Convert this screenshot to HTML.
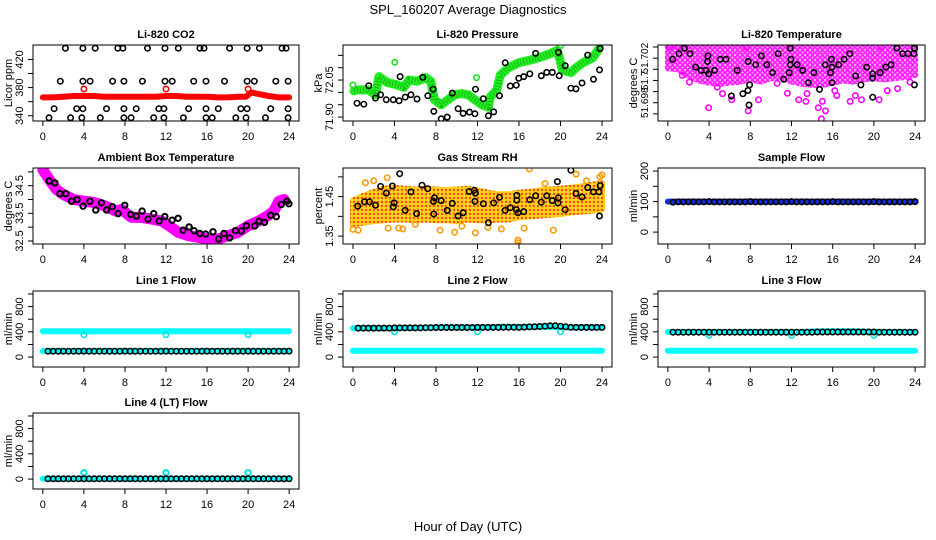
<!DOCTYPE html>
<html><head><meta charset="utf-8">
<style>
html,body{margin:0;padding:0;background:#fff;}
svg{display:block;font-family:"Liberation Sans",sans-serif;}
</style></head>
<body>
<svg id="chart" width="936" height="540" viewBox="0 0 936 540">
<defs>
<pattern id="dotM" width="5" height="5" patternUnits="userSpaceOnUse"><rect width="5" height="5" fill="#ffb0ff"/><circle cx="2.5" cy="2.5" r="1.8" fill="none" stroke="#ff00ff" stroke-width="1.3"/></pattern>
<pattern id="dotO" width="4" height="4" patternUnits="userSpaceOnUse"><rect width="4" height="4" fill="#ffd21a"/><circle cx="2" cy="2" r="1.2" fill="#e8501a"/></pattern>
</defs>
<text x="468" y="14" text-anchor="middle" font-size="13">SPL_160207  Average Diagnostics</text>
<text x="468" y="531" text-anchor="middle" font-size="13">Hour of Day (UTC)</text>
</svg>
<script>
// ---------- data ----------
const xTicks = [0,4,8,12,16,20,24];
const halfHours = [0.5,1,1.5,2,2.5,3,3.5,4,4.5,5,5.5,6,6.5,7,7.5,8,8.5,9,9.5,10,10.5,11,11.5,12,12.5,13,13.5,14,14.5,15,15.5,16,16.5,17,17.5,18,18.5,19,19.5,20,20.5,21,21.5,22,22.5,23,23.5,24];
const hourly = [0,1,2,3,4,5,6,7,8,9,10,11,12,13,14,15,16,17,18,19,20,21,22,23,24];

// CO2
const co2BlackHours = [2.2,3.9,5.1,7.3,7.8,10.2,11.9,13.2,15.3,15.7,18.2,19.9,21.1,23.3,23.7, 1.7,3.9,4.6,6.8,7.9,9.7,11.9,12.6,14.7,15.9,17.7,19.9,20.6,22.7,23.9, 1.1,3.3,3.9,6.2,7.9,9.1,11.3,11.8,14.2,15.9,17.1,19.3,19.9,22.2,23.9, 0.6,2.7,3.8,5.6,7.9,8.6,10.8,11.8,13.7,15.9,16.5,18.8,19.8,21.7,23.9];
const co2BlackVals = [436,436,436,436,436,436,436,436,436,436,436,436,436,436,436, 389,389,389,389,389,389,389,389,389,389,389,389,389,389,389, 350,350,350,350,350,350,350,350,350,350,350,350,350,350,350, 337,337,337,337,337,337,337,337,337,337,337,337,337,337,337];
const co2RedHours = [0,1,2,3,4,5,6,7,8,9,10,11,12,13,14,15,16,17,18,19,19.8,20.3,21,22,23,24];
const co2RedVals = [366,366,367,368,368,368,367,367,367,367,367,367,368,368,367,367,367,366,366,367,367,373,371,368,366,366];
const co2RedOutHours = [4,12,20];
const co2RedOutVals = [378,378,378];

// Pressure
const presGreenHours = [0.1,0.4,1.5,2.17,2.5,3.3,4.3,4.9,5.4,6.2,7.0,7.5,7.86,8.5,9.15,9.8,10.45,11.1,11.75,12.4,13.05,13.2,13.86,14.2,15.0,15.97,17.0,17.9,18.9,19.7,20.2,21.0,21.5,22.15,23.1,23.76];
const presGreenVals = [72.006,72.01,72.01,71.99,72.064,72.04,72.03,72.02,72.05,72.045,72.06,72.045,71.97,71.95,71.97,71.99,71.995,71.99,71.97,71.95,71.94,71.98,72.01,72.07,72.10,72.12,72.13,72.14,72.155,72.17,72.09,72.08,72.10,72.12,72.14,72.18];
const presGreenOutHours = [0,4.03,11.9,20.0];
const presGreenOutVals = [72.03,72.122,72.06,72.19];
const presBlackHours = [0.39,1.04,1.53,2.17,2.66,3.21,3.89,4.45,4.54,5.03,5.58,6.17,6.72,7.21,7.72,7.79,8.5,9.08,9.57,10.13,10.61,11.23,11.75,11.81,12.56,13.05,13.56,14.12,14.67,15.16,15.74,15.97,16.45,17.04,17.6,18.15,18.67,19.21,19.8,19.87,20.45,21.0,21.49,22.07,22.62,23.18,23.76,23.8];
const presBlackVals = [71.956,71.952,72.027,71.977,71.99,71.97,71.97,71.966,72.064,71.981,71.99,71.973,72.061,71.986,72.013,71.923,71.893,71.9,71.997,71.934,71.915,71.92,71.913,72.013,71.974,71.905,71.921,71.986,72.12,72.026,72.029,72.057,72.064,72.075,72.158,72.067,72.081,72.081,72.162,72.067,72.108,72.017,72.014,72.038,72.151,72.053,72.091,72.178];

// Li-820 temperature
const tempBandHi = [51.7031,51.7031,51.7031,51.7031,51.7031,51.7031,51.7031,51.7031,51.7031,51.7031,51.7031,51.7031,51.7031,51.7031,51.7031,51.7031,51.7031,51.7031,51.7031,51.7031,51.7031,51.7031,51.7031,51.7031,51.7031];
const tempBandLo = [51.7011,51.7010,51.7004,51.7000,51.6998,51.6997,51.6998,51.6999,51.7001,51.6999,51.7002,51.7003,51.6999,51.6997,51.6996,51.6996,51.6998,51.7000,51.6999,51.7001,51.7002,51.7001,51.7002,51.7003,51.7005];
const tempMagOutHours = [3.95,7.8,14.9,15.3,15.0,14.6,8.8,6.2,20.5,17.7,12.7,13.4,11.6,16.4,2.1,1.4,18.8,16.2,13.5,5.3,4.8,10.6,18.2,21.3,22.3,23.5,0.2,1.0,7.6,20.7];
const tempMagOutVals = [51.69755,51.69727,51.69655,51.69727,51.69812,51.69755,51.69827,51.69827,51.69827,51.69812,51.69827,51.69812,51.69885,51.69864,51.69985,51.70045,51.69827,51.69909,51.69882,51.69882,51.69939,51.69973,51.69864,51.69909,51.69927,51.69985,51.7030,51.7030,51.7030,51.7030];
const tempBlackHours = [0.46,1.08,1.6,2.15,2.7,3.23,3.72,3.85,3.88,3.95,4.53,5.09,5.65,6.17,6.73,7.28,7.77,7.8,7.93,7.87,8.52,9.08,9.6,10.16,10.7,11.24,11.78,11.88,11.88,11.95,12.54,13.09,13.64,14.17,14.72,15.28,15.8,15.87,15.93,15.93,16.58,17.11,17.66,18.22,18.74,19.3,19.86,19.88,19.88,20.6,21.15,21.67,22.23,22.79,23.31,23.87,23.93,23.93];
const tempBlackVals = [51.7019,51.7024,51.7029,51.7024,51.7012,51.7009,51.7009,51.7017,51.7022,51.7006,51.7009,51.7019,51.7019,51.6986,51.7009,51.6988,51.6991,51.7017,51.6996,51.6978,51.7014,51.7022,51.7014,51.7007,51.7024,51.7001,51.7007,51.7014,51.7029,51.7019,51.7014,51.7009,51.6998,51.7007,51.6992,51.7014,51.7007,51.7019,51.7012,51.6998,51.7014,51.7019,51.7024,51.7004,51.6996,51.7012,51.7002,51.7006,51.6985,51.7007,51.7012,51.7014,51.7029,51.7024,51.7024,51.7024,51.7029,51.6996];

// Ambient box temperature
const ambMagHours = [0,0.65,1.33,2,3,4,5,6.1,7.1,7.7,8.6,9.6,10.6,11.6,12.3,13.2,14.2,15.2,16.1,17.1,18,19,20,21,21.9,22.5,23,23.5];
const ambMagVals = [35.07,34.71,34.36,34.18,34.0,33.94,33.89,33.76,33.58,33.64,33.36,33.35,33.29,33.22,33.05,32.81,32.69,32.63,32.57,32.57,32.69,32.81,33.05,33.22,33.41,33.58,33.94,34.0];
const ambBlackHours = [0.62,1.17,1.66,2.24,2.79,3.34,3.92,4.58,5.16,5.71,6.2,6.78,7.33,7.98,8.57,9.12,9.67,10.25,10.8,11.33,11.88,12.59,13.18,13.66,14.25,14.73,15.29,15.87,16.58,17.14,17.65,18.2,18.76,19.34,19.83,20.64,21.06,21.6,22.2,22.75,23.24,23.8,23.98];
const ambBlackVals = [34.67,34.6,34.21,34.21,33.94,34.0,33.76,33.94,33.62,33.88,33.62,33.74,33.49,33.79,33.46,33.4,33.58,33.29,33.49,33.22,33.38,33.25,33.32,32.89,33.01,32.87,32.77,32.75,32.83,32.57,32.77,32.61,32.87,32.86,33.05,33.04,33.21,33.17,33.43,33.38,33.82,33.94,33.85];

// Gas stream RH
const rhBandHi = [1.440,1.452,1.462,1.470,1.472,1.470,1.468,1.470,1.468,1.466,1.468,1.470,1.466,1.460,1.456,1.456,1.460,1.462,1.466,1.468,1.470,1.472,1.476,1.480,1.484];
const rhBandLo = [1.380,1.384,1.388,1.390,1.392,1.392,1.390,1.392,1.390,1.390,1.388,1.392,1.390,1.390,1.392,1.392,1.398,1.400,1.402,1.404,1.406,1.410,1.412,1.414,1.418];
const rhOrangeOutHours = [0.0,0.5,1.2,3.3,3.4,4.4,4.8,8.4,9.8,11.8,14.3,15.9,15.9,16.5,17.0,19.3,21.5,23.8,24.0,2.0,6.0,10.5,13.0,18.5,22.5];
const rhOrangeOutVals = [1.367,1.365,1.485,1.498,1.37,1.37,1.368,1.365,1.36,1.358,1.368,1.34,1.333,1.37,1.52,1.365,1.507,1.5,1.505,1.49,1.38,1.375,1.372,1.483,1.49];
const rhBlackHours = [0.46,1.1,1.59,2.17,2.66,3.21,3.8,3.89,3.96,4.5,5.03,5.58,6.13,6.65,7.2,7.76,7.79,7.86,8.5,9.08,9.57,10.13,10.61,11.2,11.68,11.75,11.8,12.56,13.05,13.56,14.12,14.67,15.16,15.74,15.8,15.8,15.9,16.45,17.04,17.6,18.15,18.67,19.21,19.7,19.76,19.8,20.45,21.0,21.49,22.07,22.62,23.18,23.69,23.76,23.82];
const rhBlackVals = [1.426,1.437,1.437,1.428,1.476,1.459,1.477,1.424,1.434,1.508,1.415,1.462,1.407,1.479,1.47,1.438,1.406,1.447,1.44,1.415,1.433,1.401,1.409,1.463,1.466,1.438,1.459,1.432,1.384,1.434,1.448,1.415,1.422,1.417,1.453,1.441,1.409,1.412,1.442,1.452,1.436,1.452,1.44,1.488,1.434,1.447,1.417,1.517,1.458,1.449,1.473,1.462,1.462,1.401,1.478];

// Flows
const sampleBlueVals = [100,100,100,100,100,100,100,100,100,100,100,100,100,100,100,100,100,100,100,100,100,100,100,100,100];
const sampleBlackVals = [98,99,99,99,99,99,99,100,99,99,99,99,99,99,99,100,99,99,99,99,99,99,99,100,99,99,99,99,99,99,99,100,99,99,99,99,99,99,99,100,99,99,99,99,99,99,99,100];
const line1CyanHi = [408,408,408,408,408,408,408,408,408,408,408,408,408,408,410,410,408,408,408,410,410,408,408,408,408];
const line1CyanLo = [95,95,95,95,95,95,95,95,95,95,95,95,95,95,95,95,95,95,95,95,95,95,95,95,95];
const line1CyanOutHours = [4,12,20];
const line1CyanOutVals = [355,355,355];
const line1BlackVals = [93,93,93,93,93,93,93,95,93,93,93,93,93,93,93,95,93,93,93,93,93,93,93,95,93,93,93,93,93,93,93,95,93,93,93,93,93,93,93,95,93,93,93,93,93,93,93,95];
const line2CyanHi = [460,460,460,460,458,462,462,466,468,470,470,470,466,470,475,478,478,478,480,478,470,468,468,468,468];
const line2CyanLo = [100,100,100,100,100,100,100,100,100,100,100,100,100,100,100,100,100,100,100,100,100,100,100,100,100];
const line2CyanOutHours = [4,12,20];
const line2CyanOutVals = [400,400,400];
const line2BlackVals = [460,460,460,460,460,460,460,462,462,462,462,462,462,465,465,468,468,468,468,468,468,468,468,470,470,470,470,470,472,472,472,470,475,478,480,485,490,495,495,490,480,472,470,470,470,470,470,470];
const line3CyanHi = [398,398,398,398,398,398,398,398,398,398,398,398,398,398,405,410,410,410,410,405,398,398,398,398,398];
const line3CyanLo = [100,100,100,100,100,100,100,100,100,100,100,100,100,100,100,100,100,100,100,100,100,100,100,100,100];
const line3CyanOutHours = [4,12,20];
const line3CyanOutVals = [345,345,345];
const line3BlackVals = [395,395,395,395,395,395,395,395,395,395,395,395,395,395,395,395,395,395,395,395,395,395,395,395,395,395,395,395,398,398,398,398,398,398,398,398,398,398,398,398,395,395,395,395,395,395,395,395];
const line4CyanVals = [5,5,5,5,5,5,5,5,5,5,5,5,5,5,5,5,5,5,5,5,5,5,5,5,5];
const line4CyanOutHours = [4,12,20];
const line4CyanOutVals = [100,100,100];
const line4BlackVals = [5,5,5,5,5,5,5,5,5,5,5,5,5,5,5,5,5,5,5,5,5,5,5,5,5,5,5,5,5,5,5,5,5,5,5,5,5,5,5,5,5,5,5,5,5,5,5,5];

// ---------- drawing ----------
const NS = 'http://www.w3.org/2000/svg';
const svg = document.getElementById('chart');
function mk(tag, attrs, parent){
  const e = document.createElementNS(NS, tag);
  for (const k in attrs) e.setAttribute(k, attrs[k]);
  (parent||svg).appendChild(e);
  return e;
}
const colX = [[33,299],[343,612],[658,925]];
const rowY = [45,168,291,413];
const PH = 76;

function panel(name, title, col, row, ymin, ymax, yticks, ylabels, ylab, yfs){
  const x0 = colX[col][0], x1 = colX[col][1], y0 = rowY[row], y1 = y0 + PH;
  const g = mk('g', {});
  
  
  const p = {g, x0, x1, y0, y1,
    sx: h => x0 + (h + 0.96) / 25.92 * (x1 - x0),
    sy: v => y1 - (v - ymin) / (ymax - ymin) * PH};
  const clip = mk('clipPath', {id: 'clip-' + name}, g);
  mk('rect', {x: x0, y: y0, width: x1 - x0, height: PH}, clip);
  p.plot = mk('g', {'clip-path': 'url(#clip-' + name + ')'}, g);
  
  
  const t = mk('text', {x: (x0 + x1) / 2, y: y0 - 7, 'text-anchor': 'middle', 'font-size': 11, 'font-weight': 'bold'}, g);
  t.textContent = title;
  
  
  const xa = mk('g', {}, g);
  
  
  mk('line', {x1: p.sx(xTicks[0]), x2: p.sx(xTicks[xTicks.length-1]), y1: y1, y2: y1, stroke: '#000'}, xa);
  xTicks.forEach(v => {
    const X = p.sx(v);
    mk('line', {x1: X, x2: X, y1: y1, y2: y1 + 5, stroke: '#000'}, xa);
    const tx = mk('text', {x: X, y: y1 + 19, 'text-anchor': 'middle', 'font-size': 11}, xa);
    tx.textContent = v;
  });
  const ya = mk('g', {}, g);
  
  
  mk('line', {x1: x0, x2: x0, y1: p.sy(yticks[0]), y2: p.sy(yticks[yticks.length-1]), stroke: '#000'}, ya);
  yticks.forEach(v => {
    const Y = p.sy(v);
    mk('line', {x1: x0 - 5, x2: x0, y1: Y, y2: Y, stroke: '#000'}, ya);
  });
  ylabels.forEach(l => {
    const Y = p.sy(l[0]);
    const tx = mk('text', {x: x0 - 10, y: Y, 'text-anchor': 'middle', 'font-size': yfs || 11, transform: `rotate(-90 ${x0-10} ${Y})`}, ya);
    tx.textContent = l[1];
  });
  const yl = mk('text', {x: x0 - 21, y: (y0 + y1) / 2, 'text-anchor': 'middle', 'font-size': 11, transform: `rotate(-90 ${x0-21} ${(y0+y1)/2})`}, g);
  yl.textContent = ylab;
  
  
  mk('rect', {x: x0, y: y0, width: x1 - x0, height: PH, fill: 'none', stroke: '#000'}, g);
  return p;
}
function thickLine(p, hs, vs, color, w, nm, texture){
  const pts = hs.map((h, i) => p.sx(h).toFixed(1) + ',' + p.sy(vs[i]).toFixed(1)).join(' ');
  const pl = mk('polyline', {points: pts, fill: 'none', stroke: color, 'stroke-width': w, 'stroke-linejoin': 'round', 'stroke-linecap': 'round'}, p.plot);
  
  
  if (texture) {
    const pl2 = mk('polyline', {points: pts, fill: 'none', stroke: 'rgba(0,80,0,0.35)', 'stroke-width': w - 3, 'stroke-dasharray': '1 2'}, p.plot);
    
    
  }
}
function band(p, hs, lo, hi, fill, nm){
  const top = hs.map((h, i) => p.sx(h).toFixed(1) + ',' + p.sy(hi[i]).toFixed(1));
  const bot = hs.map((h, i) => p.sx(h).toFixed(1) + ',' + p.sy(lo[i]).toFixed(1)).reverse();
  const pg = mk('polygon', {points: top.concat(bot).join(' '), fill: fill, stroke: fill, 'stroke-width': 6, 'stroke-linejoin': 'round'}, p.plot);
  
  
}
function points(p, hs, vs, color, nm, sw){
  hs.forEach((h, i) => {
    const c = mk('circle', {cx: p.sx(h).toFixed(1), cy: p.sy(vs[i]).toFixed(1), r: 2.7, fill: 'none', stroke: color, 'stroke-width': sw || 1.6}, p.plot);
    
    
  });
}

let p = panel('co2', 'Li-820 CO2', 0, 0, 332.5, 440.5, [340,360,380,400,420], [[340,'340'],[380,'380'],[420,'420']], 'Licor ppm');
thickLine(p, co2RedHours, co2RedVals, '#ff0000', 6, 'co2-red-series');
points(p, co2RedOutHours, co2RedOutVals, '#ff0000', 'co2-red-point');
points(p, co2BlackHours, co2BlackVals, '#000', 'co2-black-point');

p = panel('pressure', 'Li-820 Pressure', 1, 0, 71.884, 72.192, [71.90,71.95,72.00,72.05,72.10,72.15], [[71.90,'71.90'],[72.05,'72.05']], 'kPa');
thickLine(p, presGreenHours, presGreenVals, '#22ee22', 9, 'pressure-green-series', true);
points(p, presGreenOutHours, presGreenOutVals, '#22dd22', 'pressure-green-point');
points(p, presBlackHours, presBlackVals, '#000', 'pressure-black-point');

p = panel('li820-temp', 'Li-820 Temperature', 2, 0, 51.69636, 51.70318, [51.697,51.698,51.699,51.700,51.701,51.702,51.703], [[51.698,'51.698'],[51.700,'51.7'],[51.702,'51.702']], 'degrees C', 10);
band(p, hourly, tempBandLo, tempBandHi, 'url(#dotM)', 'li820-temp-magenta-band');
points(p, tempMagOutHours, tempMagOutVals, '#ff00ff', 'li820-temp-magenta-point');
points(p, tempBlackHours, tempBlackVals, '#000', 'li820-temp-black-point');

p = panel('ambient', 'Ambient Box Temperature', 0, 1, 32.39, 35.14, [32.5,33.0,33.5,34.0,34.5,35.0], [[32.5,'32.5'],[33.5,'33.5'],[34.5,'34.5']], 'degrees C');
thickLine(p, ambMagHours, ambMagVals, '#ff00ff', 11, 'ambient-magenta-series');
points(p, ambBlackHours, ambBlackVals, '#000', 'ambient-black-point', 2);

p = panel('gas-rh', 'Gas Stream RH', 1, 1, 1.33, 1.5225, [1.35,1.40,1.45,1.50], [[1.35,'1.35'],[1.45,'1.45']], 'percent');
band(p, hourly, rhBandLo, rhBandHi, 'url(#dotO)', 'gas-rh-orange-band');
points(p, rhOrangeOutHours, rhOrangeOutVals, '#ff9900', 'gas-rh-orange-point');
points(p, rhBlackHours, rhBlackVals, '#000', 'gas-rh-black-point');

p = panel('sample-flow', 'Sample Flow', 2, 1, -39, 210, [0,50,100,150,200], [[0,'0'],[100,'100'],[200,'200']], 'ml/min');
thickLine(p, hourly, sampleBlueVals, '#1030e0', 6, 'sample-flow-blue-series');
points(p, halfHours, sampleBlackVals, '#000', 'sample-flow-black-point');

const flowTicks = [0,200,400,600,800,1000];
const flowLabels = [[0,'0'],[400,'400'],[800,'800']];
p = panel('line1', 'Line 1 Flow', 0, 2, -157, 1047, flowTicks, flowLabels, 'ml/min');
thickLine(p, hourly, line1CyanHi, '#00ffff', 6, 'line1-cyan-upper-series');
thickLine(p, hourly, line1CyanLo, '#00ffff', 6, 'line1-cyan-lower-series');
points(p, line1CyanOutHours, line1CyanOutVals, '#00e0e0', 'line1-cyan-point');
points(p, halfHours, line1BlackVals, '#000', 'line1-black-point');
p = panel('line2', 'Line 2 Flow', 1, 2, -157, 1047, flowTicks, flowLabels, 'ml/min');
thickLine(p, hourly, line2CyanHi, '#00ffff', 6, 'line2-cyan-upper-series');
thickLine(p, hourly, line2CyanLo, '#00ffff', 6, 'line2-cyan-lower-series');
points(p, line2CyanOutHours, line2CyanOutVals, '#00e0e0', 'line2-cyan-point');
points(p, halfHours, line2BlackVals, '#000', 'line2-black-point');
p = panel('line3', 'Line 3 Flow', 2, 2, -157, 1047, flowTicks, flowLabels, 'ml/min');
thickLine(p, hourly, line3CyanHi, '#00ffff', 6, 'line3-cyan-upper-series');
thickLine(p, hourly, line3CyanLo, '#00ffff', 6, 'line3-cyan-lower-series');
points(p, line3CyanOutHours, line3CyanOutVals, '#00e0e0', 'line3-cyan-point');
points(p, halfHours, line3BlackVals, '#000', 'line3-black-point');
p = panel('line4', 'Line 4 (LT) Flow', 0, 3, -157, 1047, flowTicks, flowLabels, 'ml/min');
thickLine(p, hourly, line4CyanVals, '#00ffff', 6, 'line4-cyan-series');
points(p, line4CyanOutHours, line4CyanOutVals, '#00e0e0', 'line4-cyan-point', 2);
points(p, halfHours, line4BlackVals, '#000', 'line4-black-point');
</script>
</body></html>
